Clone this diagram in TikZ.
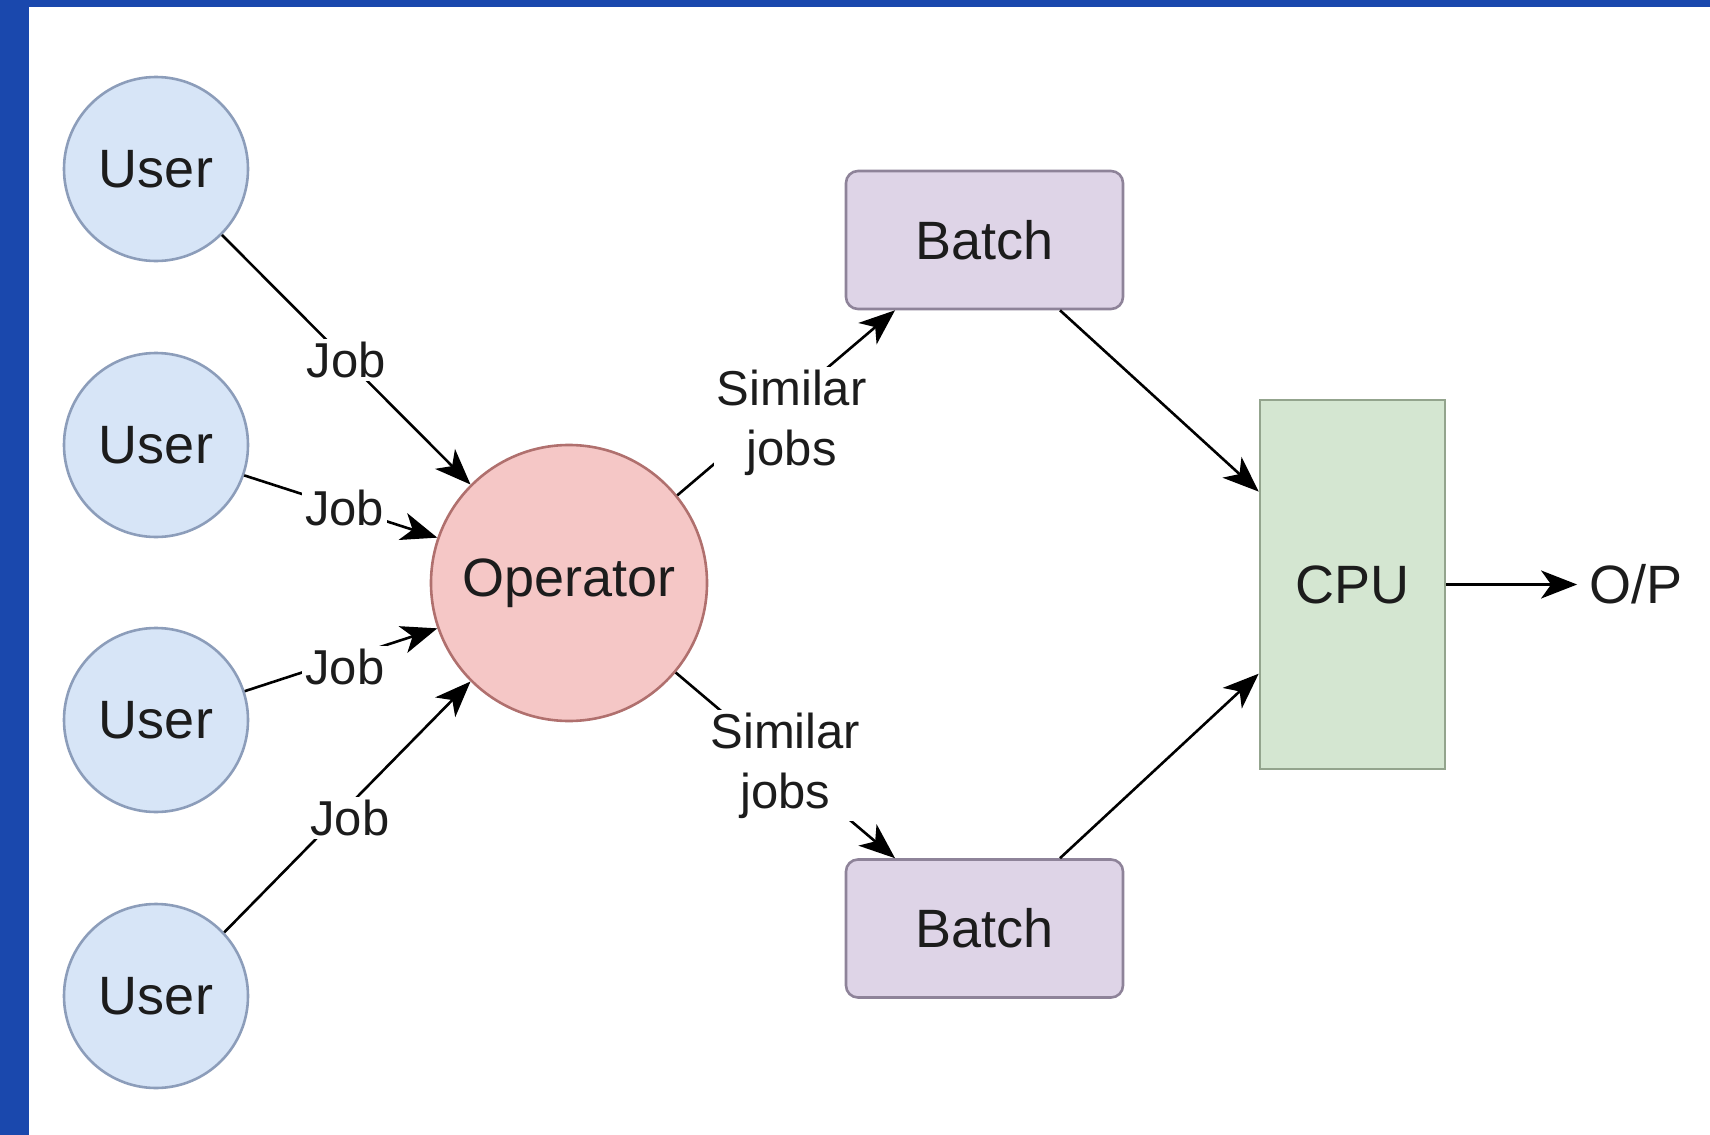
\documentclass[tikz,border=0pt]{standalone}
\usepackage{fontspec}
\setmainfont{Liberation Sans}
\usetikzlibrary{arrows.meta,calc}

\definecolor{frameblue}{HTML}{1A48AD}
\definecolor{userfill}{HTML}{D7E5F7}
\definecolor{userline}{HTML}{8C9DBA}
\definecolor{operfill}{HTML}{F5C7C6}
\definecolor{operline}{HTML}{B0706E}
\definecolor{batchfill}{HTML}{DED4E7}
\definecolor{batchline}{HTML}{8E8399}
\definecolor{cpufill}{HTML}{D4E6D1}
\definecolor{cpuline}{HTML}{93A48D}
\definecolor{inktext}{HTML}{1C1C1C}

\begin{document}
\begin{tikzpicture}[x=0.5pt,y=-0.5pt,
  every node/.style={font=\fontsize{27}{32}\selectfont, text=inktext},
  user/.style={circle, draw=userline, fill=userfill, line width=1.3pt,
    minimum size=92pt, inner sep=0pt},
  oper/.style={circle, draw=operline, fill=operfill, line width=1.3pt,
    minimum size=138pt, inner sep=0pt},
  batchbox/.style={rectangle, rounded corners=6pt, draw=batchline, fill=batchfill,
    line width=1.3pt, minimum width=138.5pt, minimum height=69pt},
  cpubox/.style={rectangle, draw=cpuline, fill=cpufill, line width=1.3pt,
    minimum width=92.5pt, minimum height=184.5pt},
  outtext/.style={inner sep=6pt},
  conn/.style={line width=1.3pt, draw=black,
    -{Stealth[length=18pt,width=14pt,inset=5pt]}},
  lbl/.style={fill=white, font=\fontsize{24.5}{30}\selectfont, inner sep=1.5pt,
    align=center},
]
\useasboundingbox (0,0) rectangle (1710,1135);

% frame strips along the left and top edges
\fill[frameblue] (0,0) rectangle (29,1135);
\fill[frameblue] (0,0) rectangle (1710,7);

% users
\node[user] (u1) at (156,169) {User};
\node[user] (u2) at (156,445) {User};
\node[user] (u3) at (156,720) {User};
\node[user] (u4) at (156,996) {User};

% operator, batches, cpu, output
\node[oper] (op) at (569,583) {Operator};
\node[batchbox] (bt) at (984.5,240) {Batch};
\node[batchbox] (bb) at (984.5,928.5) {Batch};
\node[cpubox] (cpu) at (1352.5,584.5) {CPU};
\node[outtext] (out) at (1636,584.5) {O/P};

% jobs flowing to the operator
\draw[conn] (u1.-45) -- node[lbl]{Job} (op.135);
\draw[conn] (u2.-19) -- node[lbl,pos=0.52]{Job} (op.161);
\draw[conn] (u3.18) -- node[lbl,pos=0.52,yshift=-4pt]{Job} (op.199);
\draw[conn] (u4.43) -- node[lbl,pos=0.47,xshift=5pt,yshift=-2pt]{Job} (op.225);

% operator groups similar jobs into batches
\draw[conn] (op.39) -- node[lbl,pos=0.47,xshift=6pt,yshift=-7pt]{Similar\\jobs}
  ($(bt.south west)!0.18!(bt.south east)$);
\draw[conn] (op.-40) -- node[lbl]{Similar\\jobs}
  ($(bb.north west)!0.18!(bb.north east)$);

% batches to cpu
\draw[conn] ($(bt.south west)!0.77!(bt.south east)$) --
  ($(cpu.north west)!0.25!(cpu.south west)$);
\draw[conn] ($(bb.north west)!0.77!(bb.north east)$) --
  ($(cpu.north west)!0.74!(cpu.south west)$);

% cpu output
\draw[conn] (cpu.east) -- (out.west);
\end{tikzpicture}
\end{document}
